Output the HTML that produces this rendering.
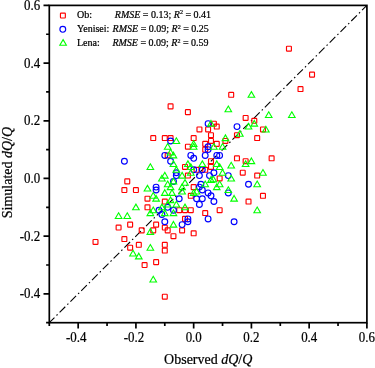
<!DOCTYPE html><html><head><meta charset="utf-8"><title>plot</title>
<style>html,body{margin:0;padding:0;background:#fff}svg{display:block}text{font-family:"Liberation Serif","Times New Roman",serif;fill:#000;stroke:#000;stroke-width:0.22px}</style></head><body>
<svg width="375" height="368" viewBox="0 0 375 368">
<rect width="375" height="368" fill="#fff"/>
<line x1="49.3" y1="322.7" x2="366.9" y2="5.4" stroke="#000" stroke-width="1.1" stroke-dasharray="8 2.9 1.5 2.87" stroke-dashoffset="0.7"/>
<g>
<rect x="286.49" y="46.22" width="4.9" height="4.9" rx="0.6" fill="none" stroke="#f00" stroke-width="1.15"/>
<rect x="309.59" y="72.18" width="4.9" height="4.9" rx="0.6" fill="none" stroke="#f00" stroke-width="1.15"/>
<rect x="298.04" y="86.60" width="4.9" height="4.9" rx="0.6" fill="none" stroke="#f00" stroke-width="1.15"/>
<rect x="228.75" y="92.37" width="4.9" height="4.9" rx="0.6" fill="none" stroke="#f00" stroke-width="1.15"/>
<rect x="243.18" y="115.45" width="4.9" height="4.9" rx="0.6" fill="none" stroke="#f00" stroke-width="1.15"/>
<rect x="251.85" y="118.33" width="4.9" height="4.9" rx="0.6" fill="none" stroke="#f00" stroke-width="1.15"/>
<rect x="211.42" y="121.22" width="4.9" height="4.9" rx="0.6" fill="none" stroke="#f00" stroke-width="1.15"/>
<rect x="214.31" y="124.10" width="4.9" height="4.9" rx="0.6" fill="none" stroke="#f00" stroke-width="1.15"/>
<rect x="260.51" y="126.99" width="4.9" height="4.9" rx="0.6" fill="none" stroke="#f00" stroke-width="1.15"/>
<rect x="168.12" y="103.91" width="4.9" height="4.9" rx="0.6" fill="none" stroke="#f00" stroke-width="1.15"/>
<rect x="185.44" y="109.68" width="4.9" height="4.9" rx="0.6" fill="none" stroke="#f00" stroke-width="1.15"/>
<rect x="196.99" y="126.99" width="4.9" height="4.9" rx="0.6" fill="none" stroke="#f00" stroke-width="1.15"/>
<rect x="205.65" y="126.99" width="4.9" height="4.9" rx="0.6" fill="none" stroke="#f00" stroke-width="1.15"/>
<rect x="150.79" y="135.64" width="4.9" height="4.9" rx="0.6" fill="none" stroke="#f00" stroke-width="1.15"/>
<rect x="162.34" y="135.64" width="4.9" height="4.9" rx="0.6" fill="none" stroke="#f00" stroke-width="1.15"/>
<rect x="168.12" y="135.64" width="4.9" height="4.9" rx="0.6" fill="none" stroke="#f00" stroke-width="1.15"/>
<rect x="191.21" y="135.64" width="4.9" height="4.9" rx="0.6" fill="none" stroke="#f00" stroke-width="1.15"/>
<rect x="185.44" y="144.29" width="4.9" height="4.9" rx="0.6" fill="none" stroke="#f00" stroke-width="1.15"/>
<rect x="202.76" y="141.41" width="4.9" height="4.9" rx="0.6" fill="none" stroke="#f00" stroke-width="1.15"/>
<rect x="165.23" y="152.95" width="4.9" height="4.9" rx="0.6" fill="none" stroke="#f00" stroke-width="1.15"/>
<rect x="182.55" y="164.48" width="4.9" height="4.9" rx="0.6" fill="none" stroke="#f00" stroke-width="1.15"/>
<rect x="194.10" y="167.37" width="4.9" height="4.9" rx="0.6" fill="none" stroke="#f00" stroke-width="1.15"/>
<rect x="185.44" y="173.14" width="4.9" height="4.9" rx="0.6" fill="none" stroke="#f00" stroke-width="1.15"/>
<rect x="191.21" y="184.68" width="4.9" height="4.9" rx="0.6" fill="none" stroke="#f00" stroke-width="1.15"/>
<rect x="234.52" y="132.75" width="4.9" height="4.9" rx="0.6" fill="none" stroke="#f00" stroke-width="1.15"/>
<rect x="208.54" y="132.75" width="4.9" height="4.9" rx="0.6" fill="none" stroke="#f00" stroke-width="1.15"/>
<rect x="222.97" y="138.52" width="4.9" height="4.9" rx="0.6" fill="none" stroke="#f00" stroke-width="1.15"/>
<rect x="208.54" y="138.52" width="4.9" height="4.9" rx="0.6" fill="none" stroke="#f00" stroke-width="1.15"/>
<rect x="214.31" y="141.41" width="4.9" height="4.9" rx="0.6" fill="none" stroke="#f00" stroke-width="1.15"/>
<rect x="202.76" y="147.18" width="4.9" height="4.9" rx="0.6" fill="none" stroke="#f00" stroke-width="1.15"/>
<rect x="234.52" y="155.83" width="4.9" height="4.9" rx="0.6" fill="none" stroke="#f00" stroke-width="1.15"/>
<rect x="208.54" y="158.72" width="4.9" height="4.9" rx="0.6" fill="none" stroke="#f00" stroke-width="1.15"/>
<rect x="243.18" y="158.72" width="4.9" height="4.9" rx="0.6" fill="none" stroke="#f00" stroke-width="1.15"/>
<rect x="208.54" y="164.48" width="4.9" height="4.9" rx="0.6" fill="none" stroke="#f00" stroke-width="1.15"/>
<rect x="202.76" y="167.37" width="4.9" height="4.9" rx="0.6" fill="none" stroke="#f00" stroke-width="1.15"/>
<rect x="240.30" y="170.25" width="4.9" height="4.9" rx="0.6" fill="none" stroke="#f00" stroke-width="1.15"/>
<rect x="217.20" y="176.02" width="4.9" height="4.9" rx="0.6" fill="none" stroke="#f00" stroke-width="1.15"/>
<rect x="188.33" y="193.33" width="4.9" height="4.9" rx="0.6" fill="none" stroke="#f00" stroke-width="1.15"/>
<rect x="162.34" y="199.10" width="4.9" height="4.9" rx="0.6" fill="none" stroke="#f00" stroke-width="1.15"/>
<rect x="176.78" y="207.75" width="4.9" height="4.9" rx="0.6" fill="none" stroke="#f00" stroke-width="1.15"/>
<rect x="182.55" y="207.75" width="4.9" height="4.9" rx="0.6" fill="none" stroke="#f00" stroke-width="1.15"/>
<rect x="188.33" y="207.75" width="4.9" height="4.9" rx="0.6" fill="none" stroke="#f00" stroke-width="1.15"/>
<rect x="182.55" y="216.41" width="4.9" height="4.9" rx="0.6" fill="none" stroke="#f00" stroke-width="1.15"/>
<rect x="153.68" y="222.18" width="4.9" height="4.9" rx="0.6" fill="none" stroke="#f00" stroke-width="1.15"/>
<rect x="162.34" y="225.06" width="4.9" height="4.9" rx="0.6" fill="none" stroke="#f00" stroke-width="1.15"/>
<rect x="179.66" y="227.94" width="4.9" height="4.9" rx="0.6" fill="none" stroke="#f00" stroke-width="1.15"/>
<rect x="124.81" y="178.91" width="4.9" height="4.9" rx="0.6" fill="none" stroke="#f00" stroke-width="1.15"/>
<rect x="121.92" y="187.56" width="4.9" height="4.9" rx="0.6" fill="none" stroke="#f00" stroke-width="1.15"/>
<rect x="133.47" y="187.56" width="4.9" height="4.9" rx="0.6" fill="none" stroke="#f00" stroke-width="1.15"/>
<rect x="145.02" y="196.21" width="4.9" height="4.9" rx="0.6" fill="none" stroke="#f00" stroke-width="1.15"/>
<rect x="145.02" y="204.87" width="4.9" height="4.9" rx="0.6" fill="none" stroke="#f00" stroke-width="1.15"/>
<rect x="127.69" y="222.18" width="4.9" height="4.9" rx="0.6" fill="none" stroke="#f00" stroke-width="1.15"/>
<rect x="116.14" y="225.06" width="4.9" height="4.9" rx="0.6" fill="none" stroke="#f00" stroke-width="1.15"/>
<rect x="139.24" y="227.94" width="4.9" height="4.9" rx="0.6" fill="none" stroke="#f00" stroke-width="1.15"/>
<rect x="93.05" y="239.48" width="4.9" height="4.9" rx="0.6" fill="none" stroke="#f00" stroke-width="1.15"/>
<rect x="121.92" y="236.60" width="4.9" height="4.9" rx="0.6" fill="none" stroke="#f00" stroke-width="1.15"/>
<rect x="136.36" y="242.37" width="4.9" height="4.9" rx="0.6" fill="none" stroke="#f00" stroke-width="1.15"/>
<rect x="127.69" y="245.25" width="4.9" height="4.9" rx="0.6" fill="none" stroke="#f00" stroke-width="1.15"/>
<rect x="142.13" y="262.56" width="4.9" height="4.9" rx="0.6" fill="none" stroke="#f00" stroke-width="1.15"/>
<rect x="150.79" y="227.94" width="4.9" height="4.9" rx="0.6" fill="none" stroke="#f00" stroke-width="1.15"/>
<rect x="165.23" y="227.94" width="4.9" height="4.9" rx="0.6" fill="none" stroke="#f00" stroke-width="1.15"/>
<rect x="191.21" y="230.83" width="4.9" height="4.9" rx="0.6" fill="none" stroke="#f00" stroke-width="1.15"/>
<rect x="171.00" y="233.71" width="4.9" height="4.9" rx="0.6" fill="none" stroke="#f00" stroke-width="1.15"/>
<rect x="162.34" y="242.37" width="4.9" height="4.9" rx="0.6" fill="none" stroke="#f00" stroke-width="1.15"/>
<rect x="162.34" y="248.14" width="4.9" height="4.9" rx="0.6" fill="none" stroke="#f00" stroke-width="1.15"/>
<rect x="153.68" y="259.67" width="4.9" height="4.9" rx="0.6" fill="none" stroke="#f00" stroke-width="1.15"/>
<rect x="162.34" y="294.29" width="4.9" height="4.9" rx="0.6" fill="none" stroke="#f00" stroke-width="1.15"/>
<rect x="246.07" y="199.10" width="4.9" height="4.9" rx="0.6" fill="none" stroke="#f00" stroke-width="1.15"/>
<rect x="217.20" y="207.75" width="4.9" height="4.9" rx="0.6" fill="none" stroke="#f00" stroke-width="1.15"/>
<rect x="202.76" y="210.64" width="4.9" height="4.9" rx="0.6" fill="none" stroke="#f00" stroke-width="1.15"/>
<rect x="254.73" y="135.64" width="4.9" height="4.9" rx="0.6" fill="none" stroke="#f00" stroke-width="1.15"/>
<rect x="269.17" y="155.83" width="4.9" height="4.9" rx="0.6" fill="none" stroke="#f00" stroke-width="1.15"/>
<rect x="254.73" y="173.14" width="4.9" height="4.9" rx="0.6" fill="none" stroke="#f00" stroke-width="1.15"/>
<rect x="260.51" y="193.33" width="4.9" height="4.9" rx="0.6" fill="none" stroke="#f00" stroke-width="1.15"/>
</g><g>
<circle cx="237.0" cy="126.6" r="2.9" fill="none" stroke="#00f" stroke-width="1.15"/>
<circle cx="208.1" cy="123.7" r="2.9" fill="none" stroke="#00f" stroke-width="1.15"/>
<circle cx="170.6" cy="141.0" r="2.9" fill="none" stroke="#00f" stroke-width="1.15"/>
<circle cx="208.1" cy="146.7" r="2.9" fill="none" stroke="#00f" stroke-width="1.15"/>
<circle cx="164.8" cy="155.4" r="2.9" fill="none" stroke="#00f" stroke-width="1.15"/>
<circle cx="190.8" cy="155.4" r="2.9" fill="none" stroke="#00f" stroke-width="1.15"/>
<circle cx="193.7" cy="158.3" r="2.9" fill="none" stroke="#00f" stroke-width="1.15"/>
<circle cx="170.6" cy="161.2" r="2.9" fill="none" stroke="#00f" stroke-width="1.15"/>
<circle cx="193.7" cy="169.8" r="2.9" fill="none" stroke="#00f" stroke-width="1.15"/>
<circle cx="176.3" cy="172.7" r="2.9" fill="none" stroke="#00f" stroke-width="1.15"/>
<circle cx="176.3" cy="175.6" r="2.9" fill="none" stroke="#00f" stroke-width="1.15"/>
<circle cx="199.4" cy="175.6" r="2.9" fill="none" stroke="#00f" stroke-width="1.15"/>
<circle cx="173.5" cy="181.4" r="2.9" fill="none" stroke="#00f" stroke-width="1.15"/>
<circle cx="156.1" cy="187.1" r="2.9" fill="none" stroke="#00f" stroke-width="1.15"/>
<circle cx="199.4" cy="187.1" r="2.9" fill="none" stroke="#00f" stroke-width="1.15"/>
<circle cx="208.1" cy="149.6" r="2.9" fill="none" stroke="#00f" stroke-width="1.15"/>
<circle cx="205.2" cy="155.4" r="2.9" fill="none" stroke="#00f" stroke-width="1.15"/>
<circle cx="216.8" cy="155.4" r="2.9" fill="none" stroke="#00f" stroke-width="1.15"/>
<circle cx="219.6" cy="155.4" r="2.9" fill="none" stroke="#00f" stroke-width="1.15"/>
<circle cx="202.3" cy="169.8" r="2.9" fill="none" stroke="#00f" stroke-width="1.15"/>
<circle cx="213.9" cy="172.7" r="2.9" fill="none" stroke="#00f" stroke-width="1.15"/>
<circle cx="209.5" cy="175.6" r="2.9" fill="none" stroke="#00f" stroke-width="1.15"/>
<circle cx="228.3" cy="175.6" r="2.9" fill="none" stroke="#00f" stroke-width="1.15"/>
<circle cx="200.9" cy="184.2" r="2.9" fill="none" stroke="#00f" stroke-width="1.15"/>
<circle cx="202.3" cy="190.0" r="2.9" fill="none" stroke="#00f" stroke-width="1.15"/>
<circle cx="208.1" cy="192.9" r="2.9" fill="none" stroke="#00f" stroke-width="1.15"/>
<circle cx="211.0" cy="195.8" r="2.9" fill="none" stroke="#00f" stroke-width="1.15"/>
<circle cx="202.3" cy="198.7" r="2.9" fill="none" stroke="#00f" stroke-width="1.15"/>
<circle cx="196.6" cy="198.7" r="2.9" fill="none" stroke="#00f" stroke-width="1.15"/>
<circle cx="213.9" cy="201.5" r="2.9" fill="none" stroke="#00f" stroke-width="1.15"/>
<circle cx="199.4" cy="204.4" r="2.9" fill="none" stroke="#00f" stroke-width="1.15"/>
<circle cx="228.3" cy="192.9" r="2.9" fill="none" stroke="#00f" stroke-width="1.15"/>
<circle cx="156.1" cy="190.0" r="2.9" fill="none" stroke="#00f" stroke-width="1.15"/>
<circle cx="179.2" cy="198.7" r="2.9" fill="none" stroke="#00f" stroke-width="1.15"/>
<circle cx="167.7" cy="207.3" r="2.9" fill="none" stroke="#00f" stroke-width="1.15"/>
<circle cx="173.5" cy="210.2" r="2.9" fill="none" stroke="#00f" stroke-width="1.15"/>
<circle cx="159.0" cy="210.2" r="2.9" fill="none" stroke="#00f" stroke-width="1.15"/>
<circle cx="187.9" cy="218.9" r="2.9" fill="none" stroke="#00f" stroke-width="1.15"/>
<circle cx="187.9" cy="221.7" r="2.9" fill="none" stroke="#00f" stroke-width="1.15"/>
<circle cx="164.8" cy="221.7" r="2.9" fill="none" stroke="#00f" stroke-width="1.15"/>
<circle cx="182.1" cy="224.6" r="2.9" fill="none" stroke="#00f" stroke-width="1.15"/>
<circle cx="124.4" cy="161.2" r="2.9" fill="none" stroke="#00f" stroke-width="1.15"/>
<circle cx="208.1" cy="218.9" r="2.9" fill="none" stroke="#00f" stroke-width="1.15"/>
<circle cx="161.9" cy="214.5" r="2.9" fill="none" stroke="#00f" stroke-width="1.15"/>
<circle cx="234.1" cy="221.7" r="2.9" fill="none" stroke="#00f" stroke-width="1.15"/>
<circle cx="248.5" cy="184.2" r="2.9" fill="none" stroke="#00f" stroke-width="1.15"/>
</g><g>
<path d="M251.41 91.62L254.71 97.32L248.11 97.32Z" fill="none" stroke="#0f0" stroke-width="1.1" stroke-linejoin="miter"/>
<path d="M228.31 106.04L231.61 111.74L225.01 111.74Z" fill="none" stroke="#0f0" stroke-width="1.1" stroke-linejoin="miter"/>
<path d="M254.30 120.47L257.60 126.17L251.00 126.17Z" fill="none" stroke="#0f0" stroke-width="1.1" stroke-linejoin="miter"/>
<path d="M268.73 111.81L272.03 117.51L265.43 117.51Z" fill="none" stroke="#0f0" stroke-width="1.1" stroke-linejoin="miter"/>
<path d="M248.52 123.35L251.82 129.05L245.22 129.05Z" fill="none" stroke="#0f0" stroke-width="1.1" stroke-linejoin="miter"/>
<path d="M210.99 120.47L214.29 126.17L207.69 126.17Z" fill="none" stroke="#0f0" stroke-width="1.1" stroke-linejoin="miter"/>
<path d="M265.85 126.24L269.15 131.94L262.55 131.94Z" fill="none" stroke="#0f0" stroke-width="1.1" stroke-linejoin="miter"/>
<path d="M291.83 111.81L295.13 117.51L288.53 117.51Z" fill="none" stroke="#0f0" stroke-width="1.1" stroke-linejoin="miter"/>
<path d="M176.34 137.77L179.64 143.47L173.04 143.47Z" fill="none" stroke="#0f0" stroke-width="1.1" stroke-linejoin="miter"/>
<path d="M193.66 140.66L196.96 146.36L190.36 146.36Z" fill="none" stroke="#0f0" stroke-width="1.1" stroke-linejoin="miter"/>
<path d="M167.68 143.54L170.98 149.24L164.38 149.24Z" fill="none" stroke="#0f0" stroke-width="1.1" stroke-linejoin="miter"/>
<path d="M193.66 143.54L196.96 149.24L190.36 149.24Z" fill="none" stroke="#0f0" stroke-width="1.1" stroke-linejoin="miter"/>
<path d="M170.57 149.31L173.87 155.01L167.27 155.01Z" fill="none" stroke="#0f0" stroke-width="1.1" stroke-linejoin="miter"/>
<path d="M173.45 152.20L176.75 157.90L170.15 157.90Z" fill="none" stroke="#0f0" stroke-width="1.1" stroke-linejoin="miter"/>
<path d="M173.45 160.85L176.75 166.55L170.15 166.55Z" fill="none" stroke="#0f0" stroke-width="1.1" stroke-linejoin="miter"/>
<path d="M150.35 163.73L153.65 169.43L147.05 169.43Z" fill="none" stroke="#0f0" stroke-width="1.1" stroke-linejoin="miter"/>
<path d="M187.89 160.85L191.19 166.55L184.59 166.55Z" fill="none" stroke="#0f0" stroke-width="1.1" stroke-linejoin="miter"/>
<path d="M190.78 163.73L194.08 169.43L187.48 169.43Z" fill="none" stroke="#0f0" stroke-width="1.1" stroke-linejoin="miter"/>
<path d="M176.34 166.62L179.64 172.32L173.04 172.32Z" fill="none" stroke="#0f0" stroke-width="1.1" stroke-linejoin="miter"/>
<path d="M190.78 169.50L194.08 175.20L187.48 175.20Z" fill="none" stroke="#0f0" stroke-width="1.1" stroke-linejoin="miter"/>
<path d="M182.11 172.39L185.41 178.09L178.81 178.09Z" fill="none" stroke="#0f0" stroke-width="1.1" stroke-linejoin="miter"/>
<path d="M164.79 172.39L168.09 178.09L161.49 178.09Z" fill="none" stroke="#0f0" stroke-width="1.1" stroke-linejoin="miter"/>
<path d="M161.90 175.27L165.20 180.97L158.60 180.97Z" fill="none" stroke="#0f0" stroke-width="1.1" stroke-linejoin="miter"/>
<path d="M173.45 178.16L176.75 183.86L170.15 183.86Z" fill="none" stroke="#0f0" stroke-width="1.1" stroke-linejoin="miter"/>
<path d="M167.68 181.04L170.98 186.74L164.38 186.74Z" fill="none" stroke="#0f0" stroke-width="1.1" stroke-linejoin="miter"/>
<path d="M185.00 179.60L188.30 185.30L181.70 185.30Z" fill="none" stroke="#0f0" stroke-width="1.1" stroke-linejoin="miter"/>
<path d="M182.11 183.93L185.41 189.63L178.81 189.63Z" fill="none" stroke="#0f0" stroke-width="1.1" stroke-linejoin="miter"/>
<path d="M170.57 183.93L173.87 189.63L167.27 189.63Z" fill="none" stroke="#0f0" stroke-width="1.1" stroke-linejoin="miter"/>
<path d="M239.86 130.56L243.16 136.26L236.56 136.26Z" fill="none" stroke="#0f0" stroke-width="1.1" stroke-linejoin="miter"/>
<path d="M225.42 134.89L228.72 140.59L222.12 140.59Z" fill="none" stroke="#0f0" stroke-width="1.1" stroke-linejoin="miter"/>
<path d="M213.87 143.54L217.17 149.24L210.57 149.24Z" fill="none" stroke="#0f0" stroke-width="1.1" stroke-linejoin="miter"/>
<path d="M222.54 143.54L225.84 149.24L219.24 149.24Z" fill="none" stroke="#0f0" stroke-width="1.1" stroke-linejoin="miter"/>
<path d="M202.33 160.85L205.63 166.55L199.03 166.55Z" fill="none" stroke="#0f0" stroke-width="1.1" stroke-linejoin="miter"/>
<path d="M216.76 160.85L220.06 166.55L213.46 166.55Z" fill="none" stroke="#0f0" stroke-width="1.1" stroke-linejoin="miter"/>
<path d="M231.20 162.29L234.50 167.99L227.90 167.99Z" fill="none" stroke="#0f0" stroke-width="1.1" stroke-linejoin="miter"/>
<path d="M245.63 160.85L248.93 166.55L242.33 166.55Z" fill="none" stroke="#0f0" stroke-width="1.1" stroke-linejoin="miter"/>
<path d="M251.41 157.97L254.71 163.67L248.11 163.67Z" fill="none" stroke="#0f0" stroke-width="1.1" stroke-linejoin="miter"/>
<path d="M219.65 163.73L222.95 169.43L216.35 169.43Z" fill="none" stroke="#0f0" stroke-width="1.1" stroke-linejoin="miter"/>
<path d="M222.54 169.50L225.84 175.20L219.24 175.20Z" fill="none" stroke="#0f0" stroke-width="1.1" stroke-linejoin="miter"/>
<path d="M231.20 175.27L234.50 180.97L227.90 180.97Z" fill="none" stroke="#0f0" stroke-width="1.1" stroke-linejoin="miter"/>
<path d="M210.99 176.72L214.29 182.41L207.69 182.41Z" fill="none" stroke="#0f0" stroke-width="1.1" stroke-linejoin="miter"/>
<path d="M205.21 181.04L208.51 186.74L201.91 186.74Z" fill="none" stroke="#0f0" stroke-width="1.1" stroke-linejoin="miter"/>
<path d="M219.65 181.04L222.95 186.74L216.35 186.74Z" fill="none" stroke="#0f0" stroke-width="1.1" stroke-linejoin="miter"/>
<path d="M216.76 183.93L220.06 189.63L213.46 189.63Z" fill="none" stroke="#0f0" stroke-width="1.1" stroke-linejoin="miter"/>
<path d="M228.31 186.81L231.61 192.51L225.01 192.51Z" fill="none" stroke="#0f0" stroke-width="1.1" stroke-linejoin="miter"/>
<path d="M234.09 195.46L237.39 201.16L230.79 201.16Z" fill="none" stroke="#0f0" stroke-width="1.1" stroke-linejoin="miter"/>
<path d="M196.55 188.25L199.85 193.95L193.25 193.95Z" fill="none" stroke="#0f0" stroke-width="1.1" stroke-linejoin="miter"/>
<path d="M164.79 189.70L168.09 195.40L161.49 195.40Z" fill="none" stroke="#0f0" stroke-width="1.1" stroke-linejoin="miter"/>
<path d="M172.01 189.70L175.31 195.40L168.71 195.40Z" fill="none" stroke="#0f0" stroke-width="1.1" stroke-linejoin="miter"/>
<path d="M182.11 188.25L185.41 193.95L178.81 193.95Z" fill="none" stroke="#0f0" stroke-width="1.1" stroke-linejoin="miter"/>
<path d="M193.66 189.70L196.96 195.40L190.36 195.40Z" fill="none" stroke="#0f0" stroke-width="1.1" stroke-linejoin="miter"/>
<path d="M153.24 192.58L156.54 198.28L149.94 198.28Z" fill="none" stroke="#0f0" stroke-width="1.1" stroke-linejoin="miter"/>
<path d="M170.57 196.91L173.87 202.61L167.27 202.61Z" fill="none" stroke="#0f0" stroke-width="1.1" stroke-linejoin="miter"/>
<path d="M176.34 201.23L179.64 206.93L173.04 206.93Z" fill="none" stroke="#0f0" stroke-width="1.1" stroke-linejoin="miter"/>
<path d="M167.68 201.23L170.98 206.93L164.38 206.93Z" fill="none" stroke="#0f0" stroke-width="1.1" stroke-linejoin="miter"/>
<path d="M161.90 204.12L165.20 209.82L158.60 209.82Z" fill="none" stroke="#0f0" stroke-width="1.1" stroke-linejoin="miter"/>
<path d="M185.00 204.12L188.30 209.82L181.70 209.82Z" fill="none" stroke="#0f0" stroke-width="1.1" stroke-linejoin="miter"/>
<path d="M153.24 207.00L156.54 212.70L149.94 212.70Z" fill="none" stroke="#0f0" stroke-width="1.1" stroke-linejoin="miter"/>
<path d="M164.79 209.89L168.09 215.59L161.49 215.59Z" fill="none" stroke="#0f0" stroke-width="1.1" stroke-linejoin="miter"/>
<path d="M173.45 209.89L176.75 215.59L170.15 215.59Z" fill="none" stroke="#0f0" stroke-width="1.1" stroke-linejoin="miter"/>
<path d="M173.45 221.43L176.75 227.13L170.15 227.13Z" fill="none" stroke="#0f0" stroke-width="1.1" stroke-linejoin="miter"/>
<path d="M147.47 185.37L150.77 191.07L144.17 191.07Z" fill="none" stroke="#0f0" stroke-width="1.1" stroke-linejoin="miter"/>
<path d="M135.92 204.12L139.22 209.82L132.62 209.82Z" fill="none" stroke="#0f0" stroke-width="1.1" stroke-linejoin="miter"/>
<path d="M118.59 212.77L121.89 218.47L115.29 218.47Z" fill="none" stroke="#0f0" stroke-width="1.1" stroke-linejoin="miter"/>
<path d="M127.26 212.77L130.56 218.47L123.96 218.47Z" fill="none" stroke="#0f0" stroke-width="1.1" stroke-linejoin="miter"/>
<path d="M150.35 209.89L153.65 215.59L147.05 215.59Z" fill="none" stroke="#0f0" stroke-width="1.1" stroke-linejoin="miter"/>
<path d="M150.35 228.64L153.65 234.34L147.05 234.34Z" fill="none" stroke="#0f0" stroke-width="1.1" stroke-linejoin="miter"/>
<path d="M133.03 250.27L136.33 255.97L129.73 255.97Z" fill="none" stroke="#0f0" stroke-width="1.1" stroke-linejoin="miter"/>
<path d="M138.81 253.16L142.11 258.86L135.51 258.86Z" fill="none" stroke="#0f0" stroke-width="1.1" stroke-linejoin="miter"/>
<path d="M150.35 244.50L153.65 250.20L147.05 250.20Z" fill="none" stroke="#0f0" stroke-width="1.1" stroke-linejoin="miter"/>
<path d="M153.24 276.23L156.54 281.93L149.94 281.93Z" fill="none" stroke="#0f0" stroke-width="1.1" stroke-linejoin="miter"/>
<path d="M257.18 207.00L260.48 212.70L253.88 212.70Z" fill="none" stroke="#0f0" stroke-width="1.1" stroke-linejoin="miter"/>
<path d="M262.96 169.50L266.26 175.20L259.66 175.20Z" fill="none" stroke="#0f0" stroke-width="1.1" stroke-linejoin="miter"/>
<path d="M257.18 181.04L260.48 186.74L253.88 186.74Z" fill="none" stroke="#0f0" stroke-width="1.1" stroke-linejoin="miter"/>
<path d="M213.30 176.14L216.60 181.84L210.00 181.84Z" fill="none" stroke="#0f0" stroke-width="1.1" stroke-linejoin="miter"/>
<path d="M156.13 195.46L159.43 201.16L152.83 201.16Z" fill="none" stroke="#0f0" stroke-width="1.1" stroke-linejoin="miter"/>
</g>
<rect x="49.3" y="5.4" width="317.59999999999997" height="317.3" fill="none" stroke="#000" stroke-width="1.7"/>
<path d="M49.30 322.7v3.2 M49.3 322.70h-3.2 M78.17 322.7v5.8 M49.3 293.85h-5.8 M107.05 322.7v3.2 M49.3 265.01h-3.2 M135.92 322.7v5.8 M49.3 236.16h-5.8 M164.79 322.7v3.2 M49.3 207.32h-3.2 M193.66 322.7v5.8 M49.3 178.47h-5.8 M222.54 322.7v3.2 M49.3 149.63h-3.2 M251.41 322.7v5.8 M49.3 120.78h-5.8 M280.28 322.7v3.2 M49.3 91.94h-3.2 M309.15 322.7v5.8 M49.3 63.09h-5.8 M338.03 322.7v3.2 M49.3 34.25h-3.2 M366.90 322.7v5.8 M49.3 5.40h-5.8" stroke="#000" stroke-width="1.7" fill="none"/>
<text transform="translate(76.2,341.8) scale(0.93,1)" font-size="13.9" text-anchor="middle">-0.4</text>
<text transform="translate(40.2,298.3) scale(0.93,1)" font-size="13.9" text-anchor="end">-0.4</text>
<text transform="translate(133.9,341.8) scale(0.93,1)" font-size="13.9" text-anchor="middle">-0.2</text>
<text transform="translate(40.2,240.6) scale(0.93,1)" font-size="13.9" text-anchor="end">-0.2</text>
<text transform="translate(193.7,341.8) scale(0.93,1)" font-size="13.9" text-anchor="middle">0.0</text>
<text transform="translate(40.2,182.9) scale(0.93,1)" font-size="13.9" text-anchor="end">0.0</text>
<text transform="translate(251.4,341.8) scale(0.93,1)" font-size="13.9" text-anchor="middle">0.2</text>
<text transform="translate(40.2,125.2) scale(0.93,1)" font-size="13.9" text-anchor="end">0.2</text>
<text transform="translate(309.2,341.8) scale(0.93,1)" font-size="13.9" text-anchor="middle">0.4</text>
<text transform="translate(40.2,67.5) scale(0.93,1)" font-size="13.9" text-anchor="end">0.4</text>
<text transform="translate(366.9,341.8) scale(0.93,1)" font-size="13.9" text-anchor="middle">0.6</text>
<text transform="translate(40.2,9.8) scale(0.93,1)" font-size="13.9" text-anchor="end">0.6</text>
<text transform="translate(208.2,364) scale(1,1.03)" font-size="14" text-anchor="middle">Observed <tspan font-style="italic">dQ</tspan>/<tspan font-style="italic">Q</tspan></text>
<text transform="translate(11.8,172.6) rotate(-90) scale(1,1.03)" font-size="14" text-anchor="middle">Simulated <tspan font-style="italic">dQ</tspan>/<tspan font-style="italic">Q</tspan></text>
<rect x="60.45" y="13.05" width="4.9" height="4.9" rx="0.6" fill="none" stroke="#f00" stroke-width="1.15"/>
<text x="77" y="18.3" font-size="10">Ob:</text>
<text x="114.8" y="18.3" font-size="10"><tspan font-style="italic">RMSE</tspan> = 0.13; <tspan font-style="italic">R</tspan><tspan font-size="6" dy="-3.8">2</tspan><tspan dy="3.8"> = 0.41</tspan></text>
<circle cx="62.8" cy="29.3" r="2.9" fill="none" stroke="#00f" stroke-width="1.15"/>
<text x="77" y="32.4" font-size="10">Yenisei:</text>
<text x="112.6" y="32.4" font-size="10"><tspan font-style="italic">RMSE</tspan> = 0.09; <tspan font-style="italic">R</tspan><tspan font-size="6" dy="-3.8">2</tspan><tspan dy="3.8"> = 0.25</tspan></text>
<path d="M63.10 39.60L66.40 45.30L59.80 45.30Z" fill="none" stroke="#0f0" stroke-width="1.1" stroke-linejoin="miter"/>
<text x="77" y="46.4" font-size="10">Lena:</text>
<text x="112.4" y="46.4" font-size="10"><tspan font-style="italic">RMSE</tspan> = 0.09; <tspan font-style="italic">R</tspan><tspan font-size="6" dy="-3.8">2</tspan><tspan dy="3.8"> = 0.59</tspan></text>
</svg></body></html>
